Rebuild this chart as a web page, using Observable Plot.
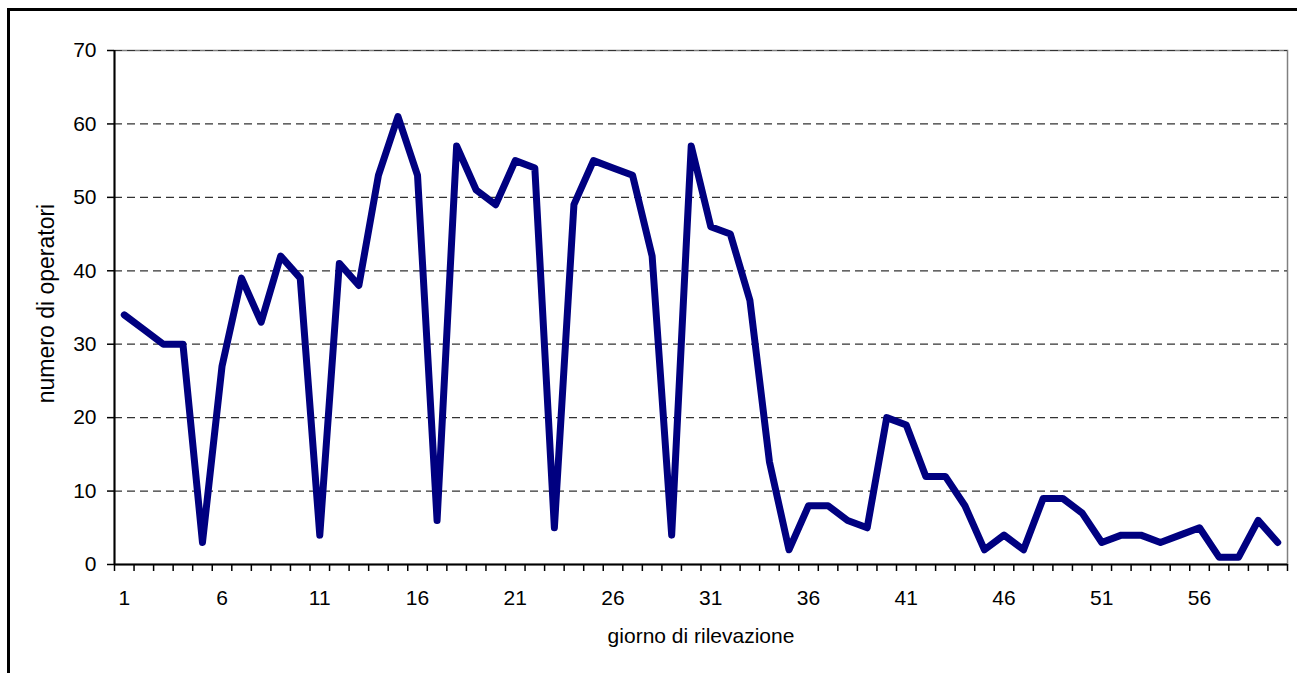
<!DOCTYPE html>
<html>
<head>
<meta charset="utf-8">
<script src="https://cdn.jsdelivr.net/npm/d3@7"></script>
<script src="https://cdn.jsdelivr.net/npm/@observablehq/plot@0.6"></script>
<style>
  html, body { margin: 0; padding: 0; background: #fff; overflow: hidden; }
  #wrap { position: relative; width: 1297px; height: 673px; }
  #border { position: absolute; left: 7px; top: 8px; width: 1400px; height: 800px; border: 3px solid #000; box-sizing: border-box; pointer-events: none; }
  #chart { position: absolute; left: 0; top: 0; }
</style>
</head>
<body>
<div id="wrap">
  <div id="chart"></div>
  <div id="border"></div>
</div>
<script>
const giorni = [1,2,3,4,5,6,7,8,9,10,11,12,13,14,15,16,17,18,19,20,21,22,23,24,25,26,27,28,29,30,31,32,33,34,35,36,37,38,39,40,41,42,43,44,45,46,47,48,49,50,51,52,53,54,55,56,57,58,59,60];
const operatori = [34,32,30,30,3,27,39,33,42,39,4,41,38,53,61,53,6,57,51,49,55,54,5,49,55,54,53,42,4,57,46,45,36,14,2,8,8,6,5,20,19,12,12,8,2,4,2,9,9,7,3,4,4,3,4,5,1,1,6,3];
const yTicks = [0,10,20,30,40,50,60,70];
const xTickLabels = [1,6,11,16,21,26,31,36,41,46,51,56];
const xTitle = "giorno di rilevazione";
const yTitle = "numero di operatori";

const data = giorni.map((g, i) => ({giorno: g, operatori: operatori[i]}));
const boundaries = [0.5, ...giorni.map(g => g + 0.5)];

const chart = Plot.plot({
  width: 1297,
  height: 673,
  marginLeft: 114,
  marginTop: 50,
  marginRight: 10,
  marginBottom: 109,
  x: {type: "linear", domain: [0.5, 60.5]},
  y: {domain: [0, 70]},
  style: {fontFamily: "'Liberation Sans', Arial, sans-serif", fontSize: "21px", color: "#000", background: "#fff"},
  marks: [
    Plot.frame({stroke: "#808080", strokeWidth: 1.5}),
    Plot.ruleY(yTicks.filter(d => d > 0), {stroke: "#333", strokeWidth: 1.2, strokeDasharray: "8,5"}),
    Plot.ruleX([0.5], {stroke: "#000", strokeWidth: 2}),
    Plot.ruleY([0], {stroke: "#000", strokeWidth: 2}),
    Plot.line(data, {x: "giorno", y: "operatori", stroke: "#000080", strokeWidth: 7, strokeLinejoin: "round", strokeLinecap: "round"}),
    Plot.axisY({ticks: yTicks, tickSize: 7, tickPadding: 11, label: null, strokeWidth: 1.5}),
    Plot.axisX({ticks: boundaries, tickSize: 7, tickFormat: () => "", label: null, strokeWidth: 1.5}),
    Plot.axisX({ticks: xTickLabels, tickSize: 0, tickPadding: 26, label: null}),
    Plot.text([xTitle], {text: d => d, frameAnchor: "bottom", dy: 72, lineAnchor: "middle", textAnchor: "middle"}),
    Plot.text([yTitle], {text: d => d, frameAnchor: "left", dx: -68, dy: -4, rotate: -90, lineAnchor: "middle", textAnchor: "middle", fontSize: 23})
  ]
});
document.getElementById("chart").appendChild(chart);
</script>
</body>
</html>
